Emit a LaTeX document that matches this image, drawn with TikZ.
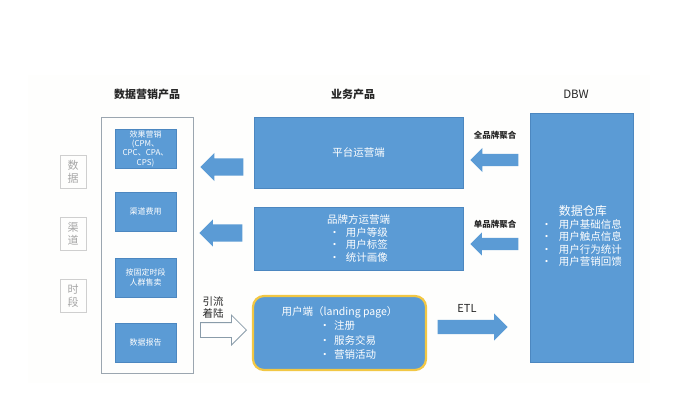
\documentclass[tikz,border=0pt]{standalone}
\usepackage{fontspec}
\setmainfont{Noto Sans CJK SC}
\usetikzlibrary{shapes.arrows}
\definecolor{bl}{HTML}{5B9BD5}
\definecolor{bldk}{HTML}{4C87C0}
\definecolor{goldb}{HTML}{F2C744}
\definecolor{grayb}{HTML}{CFCFCF}
\definecolor{grayt}{HTML}{A6A6A6}
\definecolor{outer}{HTML}{9BA6B0}
\definecolor{bgc}{HTML}{FEFEFD}
\definecolor{warr}{HTML}{8A9CAA}
\begin{document}
\begin{tikzpicture}[x=1pt,y=-1pt,
  blbox/.style={fill=bl, draw=bldk, line width=0.5pt, text=white, inner sep=0pt, align=center},
  smallbox/.style={blbox, minimum width=61pt, minimum height=39pt, font=\fontsize{8}{9.3}\selectfont},
  grbox/.style={draw=grayb, line width=0.7pt, text=grayt, inner sep=0pt, minimum width=26pt, minimum height=33pt, align=center, font=\fontsize{11}{13}\selectfont},
  blarrow/.style={single arrow, fill=bl, draw=none, inner xsep=0pt, single arrow head indent=0pt},
  title/.style={font=\fontsize{11}{13}\selectfont\bfseries, text=black!85},
  lab/.style={font=\fontsize{8.5}{10}\selectfont\bfseries, text=black!85}
]
\useasboundingbox (0,0) rectangle (700,400);
\fill[bgc] (28,75) rectangle (650,383);

% titles
\node[title] (t1) at (147,94) {数据营销产品};
\node[title] (t2) at (353,94) {业务产品};
\node[font=\fontsize{11.5}{13}\selectfont, text=black!85] (t3) at (576,94) {DBW};

% left gray boxes
\node[grbox] (g1) at (73,171.5) {数\\据};
\node[grbox] (g2) at (73,233.5) {渠\\道};
\node[grbox] (g3) at (73,295.5) {时\\段};

% outer box
\node[draw=outer, line width=0.6pt, minimum width=92pt, minimum height=256pt, inner sep=0pt] (outerbox) at (147,245) {};

% small blue boxes
\node[smallbox] (s1) at (145.5,148.5) {效果营销\\(CPM、\\CPC、CPA、\\CPS)};
\node[smallbox] (s2) at (145.5,211.5) {渠道费用};
\node[smallbox, font=\fontsize{8}{10}\selectfont] (s3) at (145.5,277.5) {按固定时段\\人群售卖};
\node[smallbox, font=\fontsize{8}{10}\selectfont] (s4) at (145.5,342.5) {数据报告};

% business product boxes
\node[blbox, minimum width=209pt, minimum height=71pt, font=\fontsize{10.5}{13}\selectfont] (p1) at (358.5,152.5) {平台运营端};
\node[blbox, minimum width=209pt, minimum height=63pt, font=\fontsize{10.5}{12.4}\selectfont] (p2) at (358.5,238.5)
  {品牌方运营端\\ •\hspace{6pt}用户等级\\ •\hspace{6pt}用户标签\\ •\hspace{6pt}统计画像};
\node[blbox, draw=goldb, line width=2.2pt, rounded corners=11pt, minimum width=173pt, minimum height=74pt,
  align=left, font=\fontsize{10.5}{14.3}\selectfont] (p3) at (339.5,333)
  {用户端（landing page）\\ \hspace{38pt}•\hspace{4pt}注册\\ \hspace{38pt}•\hspace{4pt}服务交易\\ \hspace{38pt}•\hspace{4pt}营销活动};

% DBW box
\node[blbox, minimum width=103pt, minimum height=249pt, font=\fontsize{10.5}{12.7}\selectfont] (dbw) at (581.5,237.5)
  {\renewcommand\arraystretch{0.95}\begin{tabular}{@{}l@{\hspace{7pt}}l@{}}
   & {\fontsize{12}{14}\selectfont 数据仓库}\\
   • & 用户基础信息\\
   • & 用户触点信息\\
   • & 用户行为统计\\
   • & 用户营销回馈
   \end{tabular}};

% arrows
\node[blarrow, shape border rotate=180, minimum height=43pt, inner ysep=8.5pt, single arrow head extend=5.5pt, anchor=tip] (a1) at (200,167) {};
\node[blarrow, shape border rotate=180, minimum height=43pt, inner ysep=8.5pt, single arrow head extend=5pt, anchor=tip] (a2) at (199,233) {};
\node[single arrow, fill=white, draw=warr, line width=0.8pt, inner xsep=0pt, single arrow head indent=0pt,
  minimum height=46pt, inner ysep=7pt, single arrow head extend=7.5pt, anchor=tip] (a3) at (247,330) {};
\node[blarrow, shape border rotate=180, minimum height=48pt, inner ysep=6pt, single arrow head extend=6pt, anchor=tip] (a4) at (470,160) {};
\node[blarrow, shape border rotate=180, minimum height=48pt, inner ysep=6pt, single arrow head extend=5.5pt, anchor=tip] (a5) at (470,244) {};
\node[blarrow, minimum height=70pt, inner ysep=7pt, single arrow head extend=6.5pt, anchor=tip] (a6) at (508,327) {};

% labels
\node[lab] (l1) at (495,135) {全品牌聚合};
\node[lab] (l2) at (495,224) {单品牌聚合};
\node[font=\fontsize{11}{13}\selectfont, text=black!85] (l3) at (467,308) {ETL};
\node[font=\fontsize{10.5}{12}\selectfont, text=black!85, align=center] (l4) at (213,307.5) {引流\\着陆};
\end{tikzpicture}
\end{document}
